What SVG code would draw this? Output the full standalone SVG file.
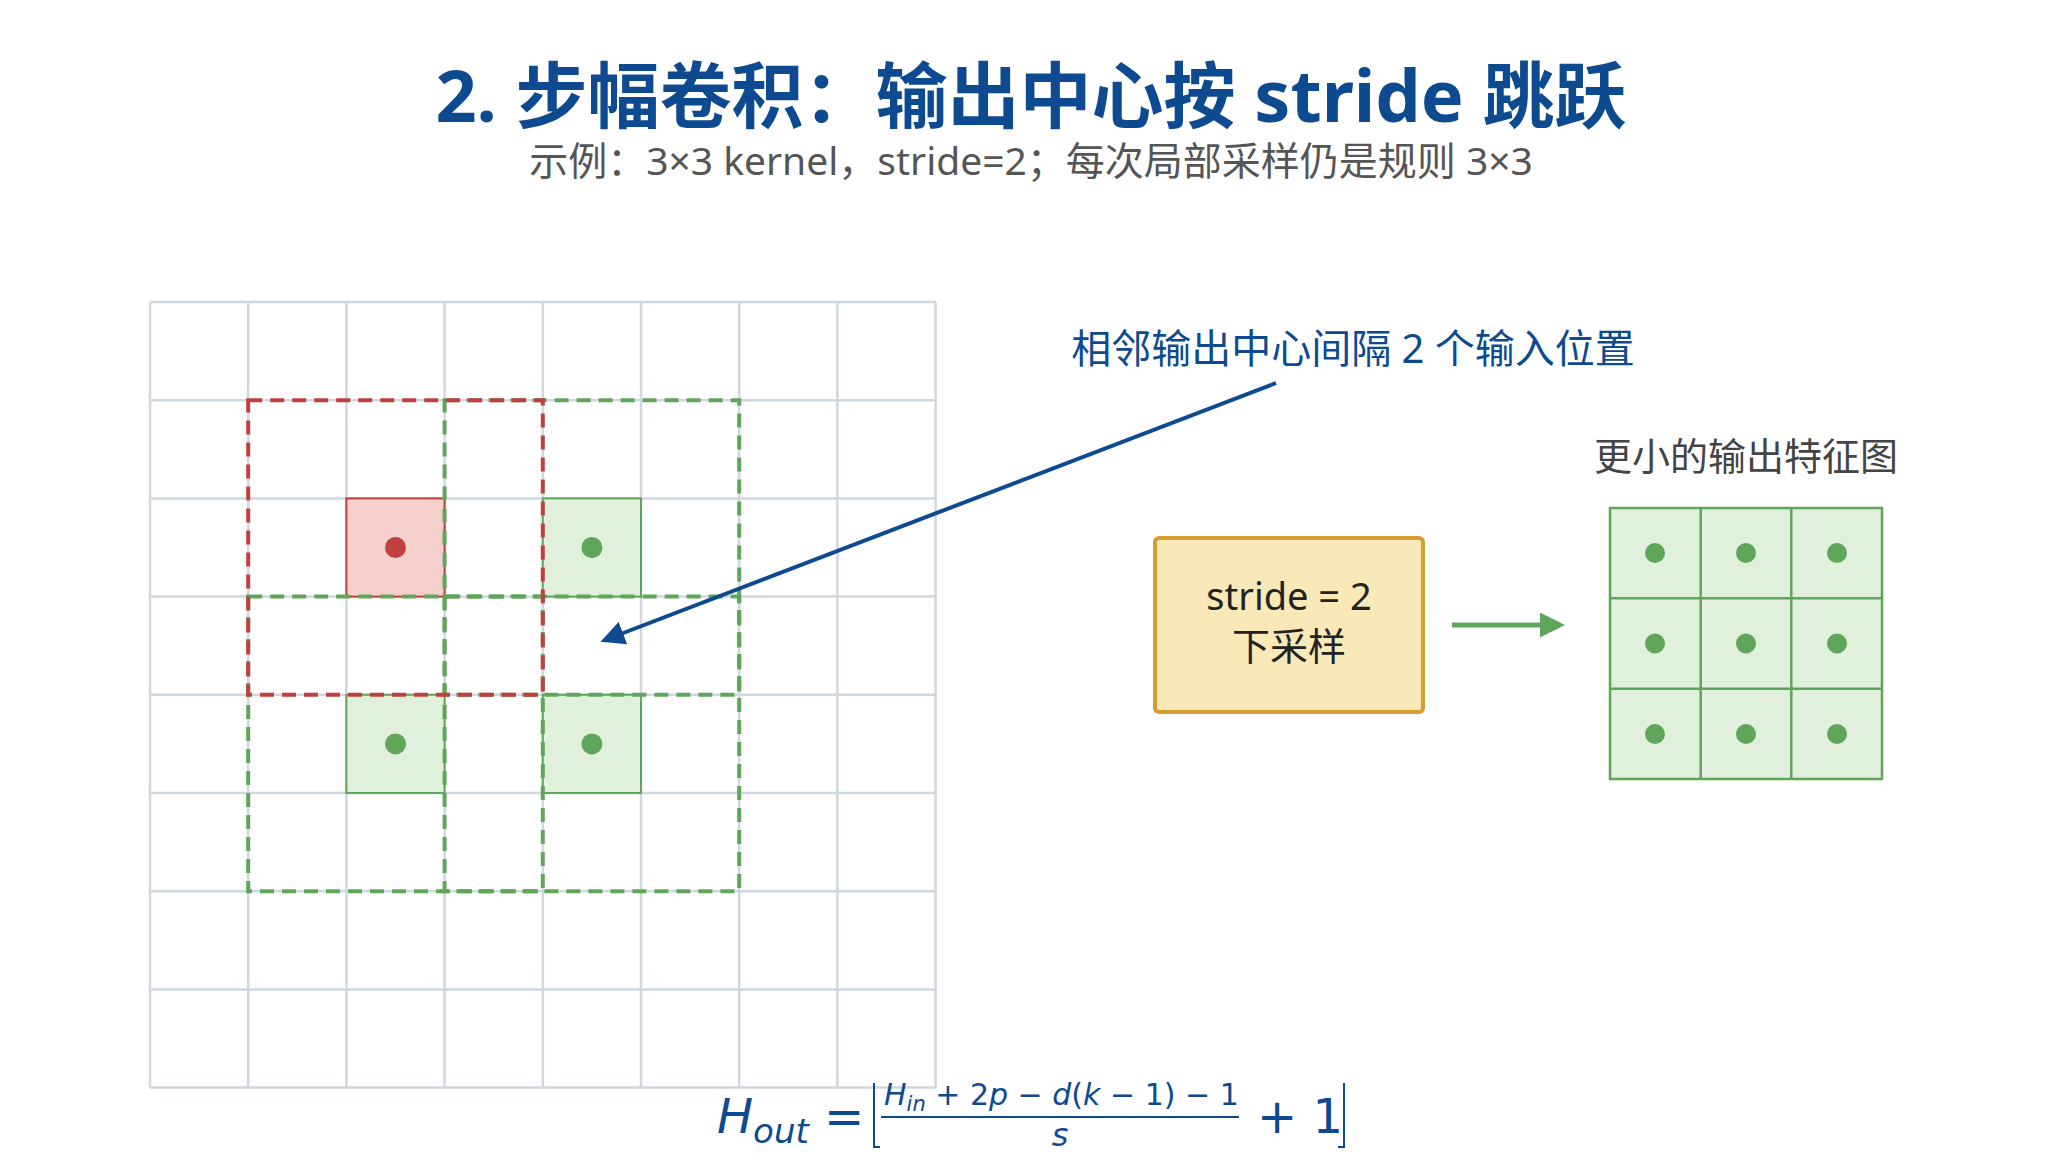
<svg xmlns="http://www.w3.org/2000/svg" width="2052" height="1175" viewBox="0 0 2052 1175">
<style>
.t{font-family:"Noto Sans","Noto Sans CJK SC",sans-serif}
.g{stroke:#cfd8de;stroke-width:2.5;fill:none}
.rd{fill:none;stroke:#c0403f;stroke-width:4;stroke-dasharray:14 8}
.gd{fill:none;stroke:#5fa55a;stroke-width:4;stroke-dasharray:14 8}
.gc{fill:#e0f0dc;stroke:#5fa55a;stroke-width:2}
.dg{fill:#5fa55a}
.m{font-family:"DejaVu Sans","Noto Sans",sans-serif;fill:#0d4a8f}
</style>
<defs>
<marker id="ab" viewBox="0 0 10 10" refX="8" refY="5" markerWidth="6" markerHeight="6" orient="auto"><path d="M0,0L10,5L0,10z" fill="#0d4a8f"/></marker>
<marker id="ag" viewBox="0 0 10 10" refX="8" refY="5" markerWidth="5" markerHeight="5" orient="auto"><path d="M0,0L10,5L0,10z" fill="#5fa55a"/></marker>
</defs>
<rect width="2052" height="1175" fill="#fff"/>
<text class="t" x="1031" y="122" text-anchor="middle" font-size="72" font-weight="bold" fill="#0d4a8f">2. 步幅卷积：输出中心按 stride 跳跃</text>
<text class="t" x="1031" y="175" text-anchor="middle" font-size="39" fill="#555">示例：3×3 kernel，stride=2；每次局部采样仍是规则 3×3</text>
<g id="input-grid">
<path class="g" d="M150,302H936M150,400.2H936M150,498.4H936M150,596.6H936M150,694.8H936M150,793H936M150,891.2H936M150,989.4H936M150,1087.6H936M150,302V1088M248.2,302V1088M346.4,302V1088M444.6,302V1088M542.8,302V1088M641,302V1088M739.2,302V1088M837.4,302V1088M935.6,302V1088"/>
<rect x="346.4" y="498.4" width="98.2" height="98.2" fill="#f5d0cc" stroke="#c0403f" stroke-width="2"/>
<rect class="gc" x="542.8" y="498.4" width="98.2" height="98.2" stroke="none"/>
<rect class="gc" x="346.4" y="694.8" width="98.2" height="98.2" stroke="none"/>
<rect class="gc" x="542.8" y="694.8" width="98.2" height="98.2" stroke="none"/>
<circle cx="395.5" cy="547.5" r="10.5" fill="#c0403f"/>
<circle class="dg" cx="591.9" cy="547.5" r="10.5"/>
<circle class="dg" cx="395.5" cy="743.9" r="10.5"/>
<circle class="dg" cx="591.9" cy="743.9" r="10.5"/>
<rect class="gd" x="444.6" y="400.2" width="294.6" height="294.6"/>
<rect class="gd" x="248.2" y="596.6" width="294.6" height="294.6"/>
<rect class="gd" x="444.6" y="596.6" width="294.6" height="294.6"/>
<rect class="rd" x="248.2" y="400.2" width="294.6" height="294.6"/>
</g>
<g id="connectors">
<line x1="1276" y1="383" x2="605" y2="640" stroke="#0d4a8f" stroke-width="4" marker-end="url(#ab)"/>
<line x1="1452" y1="625" x2="1560" y2="625" stroke="#5fa55a" stroke-width="5" marker-end="url(#ag)"/>
</g>
<g id="label-spacing"><text class="t" x="1353" y="363" text-anchor="middle" font-size="40" fill="#0d4a8f">相邻输出中心间隔 2 个输入位置</text></g>
<g id="stride-box">
<rect x="1155" y="538" width="268" height="174" rx="4" fill="#f9e8b8" stroke="#d69e2e" stroke-width="4"/>
<text class="t" x="1289" y="610" text-anchor="middle" font-size="38" fill="#222">stride = 2</text>
<text class="t" x="1289" y="660" text-anchor="middle" font-size="38" fill="#222">下采样</text>
</g>
<g id="output-map">
<text class="t" x="1746" y="470" text-anchor="middle" font-size="38" fill="#444">更小的输出特征图</text>
<rect x="1610" y="508" width="272" height="271" fill="#e0f0dc" stroke="#5fa55a" stroke-width="2.5"/>
<path d="M1700.7,508V779M1791.3,508V779M1610,598.3H1882M1610,688.7H1882" stroke="#5fa55a" stroke-width="2.5"/>
<g class="dg">
<circle cx="1655" cy="553" r="10"/><circle cx="1746" cy="553" r="10"/><circle cx="1837" cy="553" r="10"/>
<circle cx="1655" cy="643.5" r="10"/><circle cx="1746" cy="643.5" r="10"/><circle cx="1837" cy="643.5" r="10"/>
<circle cx="1655" cy="734" r="10"/><circle cx="1746" cy="734" r="10"/><circle cx="1837" cy="734" r="10"/>
</g>
</g>
<g id="formula">
<text class="m" x="717" y="1133" font-size="48"><tspan font-style="italic">H</tspan><tspan font-style="italic" font-size="34" dy="10">out</tspan><tspan dy="-10" font-size="48"> =</tspan></text>
<path d="M874,1083V1147H880M1344,1083V1147H1338" stroke="#0d4a8f" stroke-width="2" fill="none"/>
<text class="m" x="884" y="1105" font-size="30"><tspan font-style="italic">H</tspan><tspan font-style="italic" font-size="21" dy="6">in</tspan><tspan dy="-6"> + 2</tspan><tspan font-style="italic">p</tspan><tspan> − </tspan><tspan font-style="italic">d</tspan><tspan>(</tspan><tspan font-style="italic">k</tspan><tspan> − 1) − 1</tspan></text>
<line x1="881" y1="1117" x2="1239" y2="1117" stroke="#0d4a8f" stroke-width="2"/>
<text class="m" x="1060" y="1146" text-anchor="middle" font-size="32" font-style="italic">s</text>
<text class="m" x="1257" y="1133" font-size="48">+ 1</text>
</g>
</svg>
